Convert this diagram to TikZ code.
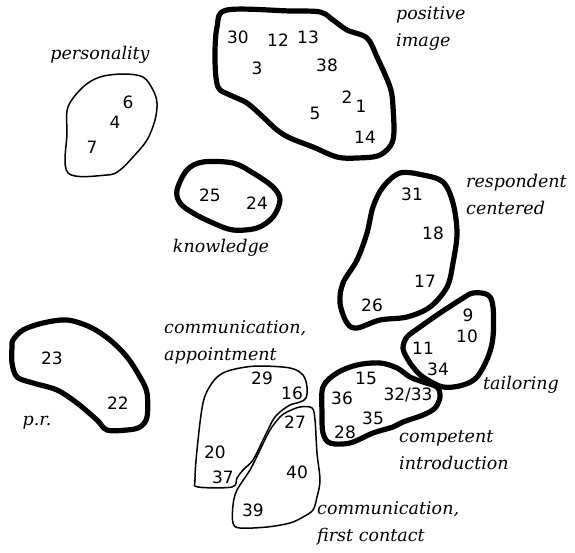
\documentclass[tikz,border=0pt]{standalone}
\usepackage{fontspec}
\usepackage{tikz}
\newfontfamily\numfont{DejaVu Sans}
\newfontfamily\lblfont{DejaVu Serif}
\tikzset{
  num/.style={font=\numfont\fontsize{17}{17}\selectfont,inner sep=0pt},
  lbl/.style={font=\lblfont\itshape\fontsize{17.5}{27}\selectfont,inner sep=0pt,align=left},
  boldloop/.style={line width=5.2pt,line join=round},
  thinloop/.style={line width=1.5pt,line join=round}
}
\newcommand{\blob}[2]{%
  \draw[#1] plot[smooth cycle,tension=0.55] coordinates {#2};
}

\begin{document}
\begin{tikzpicture}[x=1pt,y=-1pt]
  \useasboundingbox (0,0) rectangle (575,553);
  % cluster outlines
  \blob{thinloop}{(68,107) (83,87) (100,77) (123,74) (143,77) (153,90) (157,103) (155,120)
    (147,140) (133,157) (120,170) (107,175) (68,173) (67,133)}
  \blob{boldloop}{(227,10) (290,11) (320,12) (333,20) (347,30) (367,38) (377,57) (390,87)
    (393,107) (393,140) (380,155) (357,158) (337,157) (313,147) (290,138) (277,130)
    (263,117) (247,103) (230,95) (218,87) (215,60) (217,27)}
  \blob{boldloop}{(177,190) (187,170) (203,162) (233,163) (253,173) (273,187) (280,200)
    (273,217) (257,228) (233,230) (213,223) (193,213) (180,203)}
  \blob{boldloop}{(400,173) (423,175) (443,182) (453,203) (457,233) (453,263) (447,287)
    (430,307) (407,317) (380,320) (357,328) (347,323) (340,303) (343,283) (357,260)
    (367,233) (373,207) (383,187)}
  \blob{boldloop}{(403,348) (407,337) (420,327) (440,313) (460,300) (473,293) (488,295)
    (493,307) (493,337) (488,357) (477,377) (463,385) (443,387) (423,377) (413,367) (407,358)}
  \blob{boldloop}{(323,387) (337,373) (357,365) (380,363) (397,368) (410,377) (423,382)
    (437,387) (440,397) (435,408) (423,415) (403,422) (393,427) (373,433) (350,443)
    (330,443) (323,433) (322,413)}
  \blob{boldloop}{(13,340) (23,330) (43,323) (67,320) (90,327) (110,340) (127,357) (140,377)
    (147,393) (147,417) (140,427) (127,430) (107,430) (97,420) (77,403) (57,390)
    (33,383) (17,377) (12,363) (12,347)}
  \blob{thinloop}{(240,368) (260,366) (290,368) (303,375) (307,387) (306,398) (300,402)
    (290,405) (280,412) (273,420) (263,440) (253,460) (243,470) (237,478) (232,487)
    (198,487) (195,480) (197,450) (203,403) (212,383) (223,373)}
  \blob{thinloop}{(287,412) (300,407) (312,408) (315,420) (317,453) (320,480) (317,497)
    (313,510) (303,517) (290,523) (267,527) (240,528) (233,523) (233,505) (237,490)
    (250,470) (260,450) (270,430) (280,417)}

  % item numbers
  \node[num] (n6) at (128,102) {6};
  \node[num] (n4) at (115,122) {4};
  \node[num] (n7) at (92,147) {7};
  \node[num] (n30) at (238,37) {30};
  \node[num] (n12) at (278,40) {12};
  \node[num] (n13) at (308,37) {13};
  \node[num] (n3) at (257,68) {3};
  \node[num] (n38) at (327,65) {38};
  \node[num] (n2) at (347,97) {2};
  \node[num] (n1) at (361,106) {1};
  \node[num] (n5) at (315,113) {5};
  \node[num] (n14) at (365,137) {14};
  \node[num] (n25) at (210,195) {25};
  \node[num] (n24) at (257,203) {24};
  \node[num] (n31) at (412,194) {31};
  \node[num] (n18) at (433,233) {18};
  \node[num] (n17) at (425,281) {17};
  \node[num] (n26) at (372,305) {26};
  \node[num] (n9) at (468,315) {9};
  \node[num] (n10) at (467,336) {10};
  \node[num] (n11) at (423,348) {11};
  \node[num] (n34) at (438,369) {34};
  \node[num] (n15) at (366,378) {15};
  \node[num] (n36) at (342,398) {36};
  \node[num] (n3233) at (408,395) {32/33};
  \node[num] (n35) at (373,418) {35};
  \node[num] (n28) at (345,432) {28};
  \node[num] (n23) at (52,358) {23};
  \node[num] (n22) at (118,403) {22};
  \node[num] (n29) at (262,378) {29};
  \node[num] (n16) at (292,393) {16};
  \node[num] (n27) at (295,422) {27};
  \node[num] (n20) at (215,452) {20};
  \node[num] (n37) at (223,477) {37};
  \node[num] (n40) at (297,472) {40};
  \node[num] (n39) at (253,510) {39};

  % cluster names
  \node[lbl] (personality) at (100,55) {personality};
  \node[lbl,anchor=west] (posimage) at (396,29) {positive\\image};
  \node[lbl] (knowledge) at (221,248) {knowledge};
  \node[lbl,anchor=west] (respcent) at (466,194) {respondent\\centered};
  \node[lbl,anchor=west] (tailoring) at (483,385) {tailoring};
  \node[lbl,anchor=west] (compintro) at (399,450) {competent\\introduction};
  \node[lbl] (pr) at (37,423) {p.r.};
  \node[lbl,anchor=west] (commappt) at (164,342) {communication,\\appointment};
  \node[lbl,anchor=west] (commfirst) at (317,523) {communication,\\first contact};
\end{tikzpicture}
\end{document}
